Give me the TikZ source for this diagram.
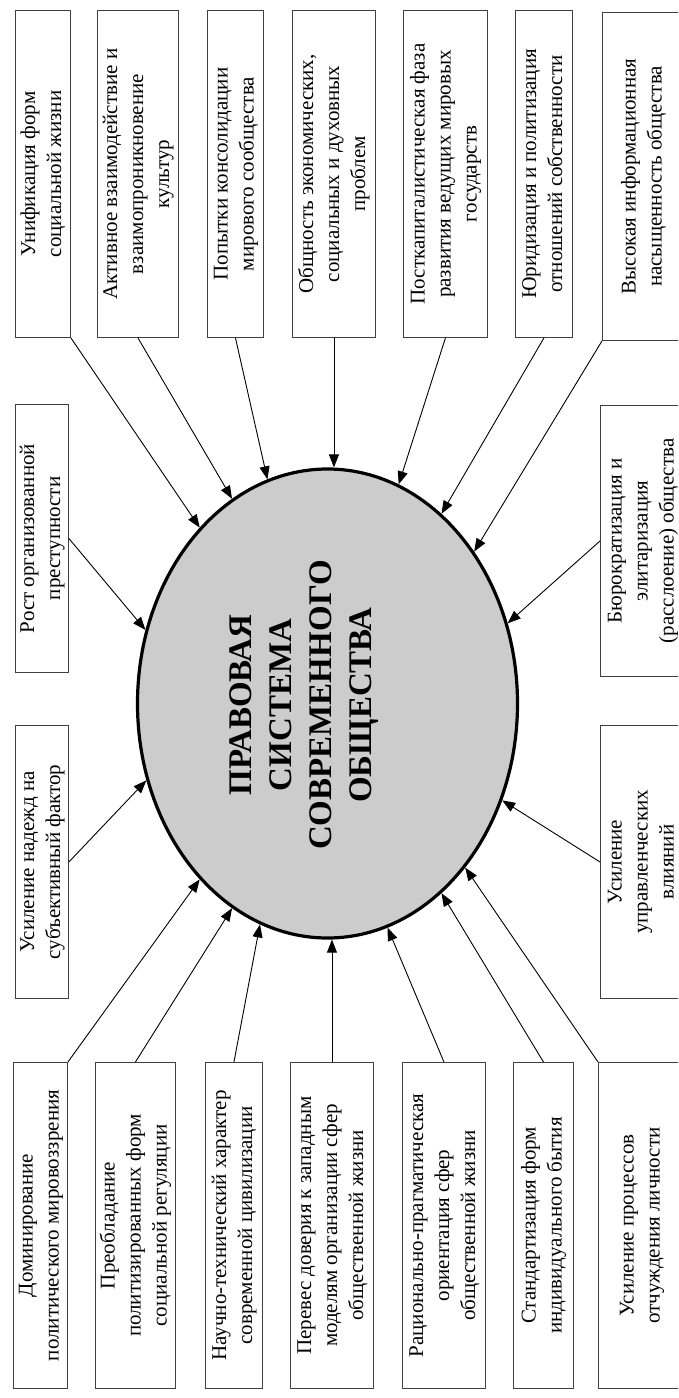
\documentclass[tikz,border=0pt]{standalone}
\usepackage{fontspec}
\setmainfont{Liberation Serif}
\usetikzlibrary{shapes.geometric,arrows.meta}
\newcommand\uptext[1]{\rotatebox{90}{\begin{tabular}{@{}c@{}}#1\end{tabular}}}
\newcommand\boxfont{\fontsize{21pt}{26pt}\selectfont}
\newcommand\titlefont{\fontsize{33pt}{40pt}\selectfont\bfseries}
\begin{document}
\begin{tikzpicture}[x=1pt,y=-1pt,
  box/.style={draw=black!75, line width=0.9pt, fill=white, inner sep=0pt,
    anchor=north west, font=\boxfont},
  conn/.style={draw=black, line width=0.9pt,
    -{Triangle[length=13pt,width=10pt]}},
  hub/.style={ellipse, draw=black, line width=3.2pt, fill=black!20,
    minimum width=380pt, minimum height=469pt, inner sep=0pt}]
\useasboundingbox (0,0) rectangle (678,1398);
\fill[white] (0,0) rectangle (678,1398);
\clip (0,0) rectangle (678,1398);

% central ellipse
\node[hub] (E) at (327.5,703.5) {};
\node[font=\titlefont, inner sep=0pt] (T) at (303,705)
  {\uptext{ПРАВОВАЯ\\СИСТЕМА\\СОВРЕМЕННОГО\\ОБЩЕСТВА}};

% upper row
\node[box, minimum width=55pt, minimum height=327pt] (t1) at (15,10)
  {\uptext{Унификация форм\\социальной жизни}};
\node[box, minimum width=81pt, minimum height=327pt] (t2) at (97,10)
  {\uptext{Активное взаимодействие и\\взаимопроникновение\\культур}};
\node[box, minimum width=56pt, minimum height=327pt] (t3) at (207,10)
  {\uptext{Попытки консолидации\\мирового сообщества}};
\node[box, minimum width=83pt, minimum height=327pt] (t4) at (292,10)
  {\uptext{Общность экономических,\\социальных и духовных\\проблем}};
\node[box, minimum width=84pt, minimum height=327pt] (t5) at (403,10)
  {\uptext{Посткапиталистическая фаза\\развития ведущих мировых\\государств}};
\node[box, minimum width=57pt, minimum height=327pt] (t6) at (515,10)
  {\uptext{Юридизация и политизация\\отношений собственности}};
\node[box, minimum width=82pt, minimum height=328pt] (t7) at (602,12)
  {\uptext{Высокая информационная\\насыщенность общества}};

% side boxes
\node[box, minimum width=53pt, minimum height=268pt] (m1) at (15,404)
  {\uptext{Рост организованной\\преступности}};
\node[box, minimum width=53pt, minimum height=273pt] (m2) at (15,725)
  {\uptext{Усиление надежд на\\субъективный фактор}};
\node[box, minimum width=84pt, minimum height=271pt] (m3) at (600,405)
  {\uptext{Бюрократизация и\\элитаризация\\(расслоение) общества}};
\node[box, minimum width=84pt, minimum height=273pt] (m4) at (600,725)
  {\uptext{Усиление\\управленческих\\влияний}};

% lower row
\node[box, minimum width=54pt, minimum height=326pt] (b1) at (13,1062)
  {\uptext{Доминирование\\политического мировоззрения}};
\node[box, minimum width=80pt, minimum height=326pt] (b2) at (95,1062)
  {\uptext{Преобладание\\политизированных форм\\социальной регуляции}};
\node[box, minimum width=57pt, minimum height=326pt] (b3) at (205,1062)
  {\uptext{Научно-технический характер\\современной цивилизации}};
\node[box, minimum width=83pt, minimum height=326pt] (b4) at (290,1062)
  {\uptext{Перевес доверия к западным\\моделям организации сфер\\общественной жизни}};
\node[box, minimum width=83pt, minimum height=326pt] (b5) at (402,1062)
  {\uptext{Рационально-прагматическая\\ориентация сфер\\общественной жизни}};
\node[box, minimum width=60pt, minimum height=326pt] (b6) at (513,1062)
  {\uptext{Стандартизация форм\\индивидуального бытия}};
\node[box, minimum width=86pt, minimum height=326pt] (b7) at (598,1062)
  {\uptext{Усиление процессов\\отчуждения личности}};

% connectors into the ellipse
\draw[conn] (t1.south east) -- (E.126.6);
\draw[conn] (t2.south) -- (E.115.9);
\draw[conn] (t3.south) -- (E.105.8);
\draw[conn] (t4.south) -- (t4.south |- E.north);
\draw[conn] (t5.south) -- (E.72.9);
\draw[conn] (t6.south) -- (E.59.2);
\draw[conn] (t7.south west) -- (E.46.3);

\draw[conn] (m1.east) -- (E.158.6);
\draw[conn] (m2.east) -- (E.203.5);
\draw[conn] (m3.west) -- (E.24.8);
\draw[conn] (m4.west) -- (E.331.7);

\draw[conn] (b1.north east) -- (E.234.6);
\draw[conn] (b2.north) -- (E.245.8);
\draw[conn] (b3.north) -- (E.253.6);
\draw[conn] (b4.north) -- (b4.north |- E.south);
\draw[conn] (b5.north) -- (E.285.9);
\draw[conn] (b6.north) -- (E.301.3);
\draw[conn] (b7.north west) -- (E.310.8);
\end{tikzpicture}
\end{document}
